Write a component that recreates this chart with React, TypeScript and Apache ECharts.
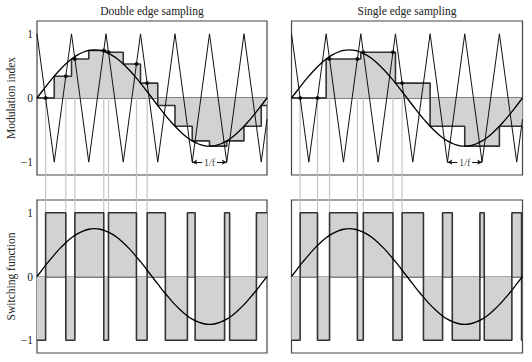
import React, { useEffect, useRef } from "react";
import * as echarts from "echarts";

const panelTitles = ["Double edge sampling", "Single edge sampling"];
const yAxisNames = ["Modulation index", "Switching function"];
const yTickValues = [-1, 0, 1];

// reference sine (modulating signal), one fundamental period
const sineTimes = [
  0, 0.025, 0.05, 0.075, 0.1, 0.125, 0.15, 0.175, 0.2, 0.225, 0.25, 0.275, 0.3, 0.325, 0.35, 0.375, 0.4,
  0.425, 0.45, 0.475, 0.5, 0.525, 0.55, 0.575, 0.6, 0.625, 0.65, 0.675, 0.7, 0.725, 0.75, 0.775, 0.8,
  0.825, 0.85, 0.875, 0.9, 0.925, 0.95, 0.975, 1,
];
const sineValues = [
  0, 0.117, 0.232, 0.34, 0.441, 0.53, 0.607, 0.668, 0.713, 0.741, 0.75, 0.741, 0.713, 0.668, 0.607, 0.53,
  0.441, 0.34, 0.232, 0.117, 0, -0.117, -0.232, -0.34, -0.441, -0.53, -0.607, -0.668, -0.713, -0.741,
  -0.75, -0.741, -0.713, -0.668, -0.607, -0.53, -0.441, -0.34, -0.232, -0.117, 0,
];

// triangular carrier vertices
const carrierTimes = [0, 0.075, 0.15, 0.225, 0.3, 0.375, 0.45, 0.525, 0.6, 0.675, 0.75, 0.825, 0.9, 0.975, 1];
const carrierValues = [1, -1, 1, -1, 1, -1, 1, -1, 1, -1, 1, -1, 1, -1, -0.33];

// sampled (held) reference
const doubleSampleTimes = [0, 0.075, 0.15, 0.225, 0.3, 0.375, 0.45, 0.525, 0.6, 0.675, 0.75, 0.825, 0.9, 0.975];
const doubleSampleValues = [0, 0.34, 0.607, 0.741, 0.713, 0.53, 0.232, -0.117, -0.441, -0.668, -0.75, -0.668, -0.441, -0.117];
const singleSampleTimes = [0, 0.15, 0.3, 0.45, 0.6, 0.75, 0.9];
const singleSampleValues = [0, 0.607, 0.713, 0.232, -0.441, -0.75, -0.441];

// switching instants
const switchStart = -1;
const doubleSwitchTimes = [0.0375, 0.1253, 0.1647, 0.2903, 0.3108, 0.4324, 0.4788, 0.5581, 0.654, 0.6875, 0.8156, 0.8375, 0.954];
const singleSwitchTimes = [0.0375, 0.1125, 0.1647, 0.2853, 0.3108, 0.4392, 0.4788, 0.5712, 0.654, 0.696, 0.8156, 0.8344, 0.954, 0.996];

// marked intersections
const doubleDotTimes = [0.0375, 0.1253, 0.1647, 0.2903, 0.3108, 0.4324, 0.4788];
const doubleDotValues = [0, 0.34, 0.607, 0.741, 0.713, 0.53, 0.232];
const singleDotTimes = [0.0375, 0.1125, 0.1647, 0.2853, 0.3108, 0.4392, 0.4788];
const singleDotValues = [0, 0, 0.607, 0.607, 0.713, 0.713, 0.232];

// 1/f annotation
const periodLabel = "1/f";
const periodStart = 0.675;
const periodEnd = 0.825;
const periodLevel = -1;
const periodLabelHalf = 0.032;

const FONT = "Liberation Serif";
const FILL = "#d2d2d2";

function zip(xs: number[], ys: number[]) {
  return xs.map((x, i) => [x, ys[i]]);
}
function holdData(ts: number[], vs: number[]) {
  const d = zip(ts, vs);
  d.push([1, vs[vs.length - 1]]);
  return d;
}
function switchData(ts: number[], start: number) {
  let v = start;
  const d: number[][] = [[0, v]];
  ts.forEach((t) => {
    v = -v;
    d.push([t, v]);
  });
  d.push([1, v]);
  return d;
}

export default function App() {
  const ref = useRef<HTMLDivElement>(null);
  useEffect(() => {
    if (!ref.current) return;
    const chart = echarts.init(ref.current, null, { renderer: "svg" });
    const grids = [
      { left: 37, top: 21, width: 230, height: 154 },
      { left: 291.5, top: 21, width: 231, height: 154 },
      { left: 37, top: 200, width: 230, height: 153 },
      { left: 291.5, top: 200, width: 231, height: 153 },
    ].map((g) => ({ ...g, show: true, borderColor: "#444", borderWidth: 1.2, backgroundColor: "transparent" }));

    const xAxes = grids.map((_, i) => ({
      type: "value",
      gridIndex: i,
      min: 0,
      max: 1,
      axisLabel: { show: false },
      axisTick: { show: false },
      splitLine: { show: false },
      axisLine: { show: true, onZero: true, lineStyle: { color: "#555", width: 1.5 } },
    }));
    const yAxes = grids.map((_, i) => ({
      type: "value",
      gridIndex: i,
      min: -1.2,
      max: 1.2,
      name: i % 2 === 0 ? yAxisNames[i / 2] : "",
      nameLocation: "middle",
      nameGap: 18,
      nameTextStyle: { fontFamily: FONT, fontSize: 11.5, color: "#222" },
      splitLine: { show: false },
      axisTick: { show: false },
      axisLine: { show: false },
      axisLabel: {
        show: i % 2 === 0,
        customValues: yTickValues,
        margin: 4,
        fontFamily: FONT,
        fontSize: 11.5,
        color: "#222",
        formatter: (v: number) => (v < 0 ? "\u2212" + Math.abs(v) : String(v)),
      },
    }));

    const series: any[] = [];
    const sampleSets = [
      [doubleSampleTimes, doubleSampleValues],
      [singleSampleTimes, singleSampleValues],
    ];
    const switchSets = [doubleSwitchTimes, singleSwitchTimes];
    const dotSets = [
      [doubleDotTimes, doubleDotValues],
      [singleDotTimes, singleDotValues],
    ];
    [0, 1].forEach((p) => {
      // top panel
      series.push({
        type: "line",
        xAxisIndex: p,
        yAxisIndex: p,
        data: holdData(sampleSets[p][0], sampleSets[p][1]),
        step: "end",
        symbol: "none",
        lineStyle: { color: "#333", width: 1.6 },
        areaStyle: { color: FILL, opacity: 1 },
        z: 2,
      });
      series.push({
        type: "line",
        xAxisIndex: p,
        yAxisIndex: p,
        data: zip(carrierTimes, carrierValues),
        symbol: "none",
        lineStyle: { color: "#111", width: 1 },
        z: 3,
      });
      series.push({
        type: "line",
        xAxisIndex: p,
        yAxisIndex: p,
        data: zip(sineTimes, sineValues),
        smooth: true,
        symbol: "none",
        lineStyle: { color: "#000", width: 1.3 },
        z: 4,
      });
      series.push({
        type: "scatter",
        xAxisIndex: p,
        yAxisIndex: p,
        data: zip(dotSets[p][0], dotSets[p][1]),
        symbolSize: 4,
        itemStyle: { color: "#000" },
        z: 5,
      });
      series.push({
        type: "scatter",
        xAxisIndex: p,
        yAxisIndex: p,
        data: [[(periodStart + periodEnd) / 2, periodLevel]],
        symbolSize: 0,
        label: {
          show: true,
          position: "inside",
          formatter: periodLabel,
          fontFamily: FONT,
          fontSize: 10.5,
          color: "#111",
          offset: [0, 0],
        },
        markLine: {
          silent: true,
          symbol: ["none", "arrow"],
          symbolSize: [4, 5],
          label: { show: false },
          lineStyle: { color: "#111", width: 1, type: "solid" },
          data: [
            [{ coord: [(periodStart + periodEnd) / 2 - periodLabelHalf, periodLevel] }, { coord: [periodStart, periodLevel] }],
            [{ coord: [(periodStart + periodEnd) / 2 + periodLabelHalf, periodLevel] }, { coord: [periodEnd, periodLevel] }],
          ],
        },
        z: 6,
      });
      // bottom panel
      series.push({
        type: "line",
        xAxisIndex: p + 2,
        yAxisIndex: p + 2,
        data: switchData(switchSets[p], switchStart),
        step: "end",
        symbol: "none",
        lineStyle: { color: "#333", width: 1.6 },
        areaStyle: { color: FILL, opacity: 1 },
        z: 2,
      });
      series.push({
        type: "line",
        xAxisIndex: p + 2,
        yAxisIndex: p + 2,
        data: zip(sineTimes, sineValues),
        smooth: true,
        symbol: "none",
        lineStyle: { color: "#000", width: 1.3 },
        z: 4,
      });
    });

    const titleGraphics = panelTitles.map((t, i) => ({
      type: "text",
      x: grids[i].left + grids[i].width / 2,
      y: 11,
      style: {
        text: t,
        fontFamily: FONT,
        fontSize: 11.5,
        fill: "#222",
        textAlign: "center",
        textVerticalAlign: "middle",
      },
    }));

    chart.setOption({
      animation: false,
      grid: grids,
      xAxis: xAxes,
      yAxis: yAxes,
      series,
      graphic: titleGraphics,
    });

    // guide lines from the marked intersections down to the switching pulses
    const guides: any[] = [];
    [0, 1].forEach((p) => {
      dotSets[p][0].forEach((t, i) => {
        const a = chart.convertToPixel({ gridIndex: p } as any, [t, dotSets[p][1][i]]) as number[];
        const b = chart.convertToPixel({ gridIndex: p + 2 } as any, [t, 1]) as number[];
        guides.push({
          type: "line",
          z: 1,
          shape: { x1: a[0], y1: a[1], x2: b[0], y2: b[1] },
          style: { stroke: "#c4c4c4", lineWidth: 1.2 },
        });
      });
    });
    chart.setOption({ graphic: [...titleGraphics, ...guides] });

    return () => chart.dispose();
  }, []);
  return (
    <div
      ref={ref}
      style={{ position: "fixed", left: 0, top: 0, width: 532, height: 362, background: "#fff" }}
    />
  );
}
